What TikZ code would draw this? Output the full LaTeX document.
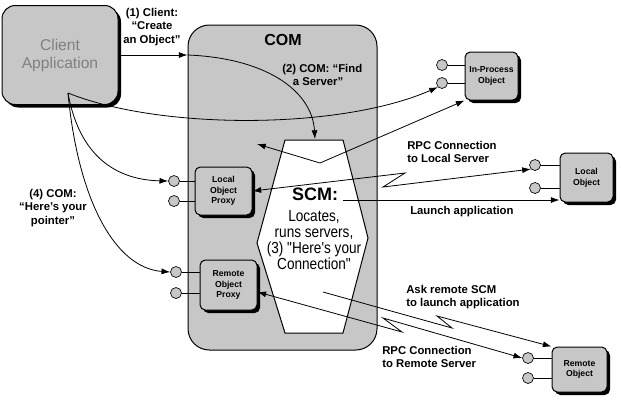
\documentclass[tikz,border=0pt]{standalone}
\usepackage{fontspec}
\setmainfont{Liberation Sans}
\newfontfamily\scmfont[FakeStretch=0.85]{Liberation Sans}
\usetikzlibrary{arrows.meta,shadows}
\begin{document}
\begin{tikzpicture}[x=0.75pt, y=-0.75pt,
  dotfill/.style={fill=black!22},
  boxshadow/.style={drop shadow={shadow xshift=2.25pt, shadow yshift=-2.25pt, fill=black, opacity=1}},
  objbox/.style={draw, line width=0.75pt, dotfill, rounded corners=4pt, boxshadow, align=center,
    font=\fontsize{6.5}{7.9}\selectfont\bfseries, inner sep=0pt},
  plug/.style={draw, circle, dotfill, minimum size=8.25pt, inner sep=0pt, line width=0.5pt},
  lbl/.style={font=\fontsize{8.5}{10.2}\selectfont\bfseries, inner sep=0pt},
  arr/.style={line width=0.6pt, -{Latex[length=6.5pt,width=4.5pt]}},
  biarr/.style={line width=0.6pt, {Latex[length=6.5pt,width=4.5pt]}-{Latex[length=6.5pt,width=4.5pt]}}]
\useasboundingbox (0,0) rectangle (621,405);
  % COM frame and SCM
  \node[draw, line width=0.75pt, dotfill, rounded corners=16pt, minimum width=141.75pt, minimum height=243.75pt] (com) at (282.5,187.5) {};
  \node[font=\fontsize{12}{14}\selectfont\bfseries] (comlbl) at (283,40) {COM};
  \draw[line width=0.75pt, fill=white] (285,140) -- (343,140) -- (368,238) -- (343,333) -- (285,333) -- (257,243) -- cycle;
  \node[font=\fontsize{13.5}{16}\selectfont\bfseries, anchor=base, inner sep=0pt] (scm) at (315,200) {SCM:};
  \node[font=\scmfont\fontsize{12}{12}\selectfont, align=center, anchor=north, inner sep=0pt] (scmtxt) at (314,210)
    {Locates,\\runs servers,\\(3) "Here's your\\Connection"};
  % client
  \node[draw, line width=0.75pt, dotfill, rounded corners=10pt, boxshadow, minimum width=87pt, minimum height=74.25pt,
    text=black!50, align=center, font=\fontsize{11.7}{13.5}\selectfont] (client) at (60,55) {Client\\Application};
  % objects
  \node[objbox, minimum width=42.75pt, minimum height=36pt] (lproxy) at (223.5,191) {Local\\Object\\Proxy};
  \node[objbox, minimum width=42.75pt, minimum height=37.5pt] (rproxy) at (228.5,285) {Remote\\Object\\Proxy};
  \node[objbox, minimum width=39.75pt, minimum height=36pt] (inproc) at (491.5,76) {In-Process\\Object};
  \node[objbox, minimum width=39.75pt, minimum height=36.75pt] (lobj) at (586.5,177.5) {Local\\Object};
  \node[objbox, minimum width=41.25pt, minimum height=33.75pt] (robj) at (579.5,369.5) {Remote\\Object};
  % interface plugs
  \node[plug] (ip1) at (442,65) {};
  \draw (ip1.east) -- (ip1 -| inproc.west);
  \node[plug] (ip2) at (442,83) {};
  \draw (ip2.east) -- (ip2 -| inproc.west);
  \node[plug] (lp1) at (174,181) {};
  \draw (lp1.east) -- (lp1 -| lproxy.west);
  \node[plug] (lp2) at (174,201) {};
  \draw (lp2.east) -- (lp2 -| lproxy.west);
  \node[plug] (rp1) at (176,272) {};
  \draw (rp1.east) -- (rp1 -| rproxy.west);
  \node[plug] (rp2) at (176,293) {};
  \draw (rp2.east) -- (rp2 -| rproxy.west);
  \node[plug] (lo1) at (535,165) {};
  \draw (lo1.east) -- (lo1 -| lobj.west);
  \node[plug] (lo2) at (535,188) {};
  \draw (lo2.east) -- (lo2 -| lobj.west);
  \node[plug] (ro1) at (528,358) {};
  \draw (ro1.east) -- (ro1 -| robj.west);
  \node[plug] (ro2) at (528,378) {};
  \draw (ro2.east) -- (ro2 -| robj.west);
  % connectors
  \coordinate (cfoot) at (68,93);
  \coordinate (scmtop) at (315,139);
  \coordinate (vtip) at (320,163);
  \coordinate (vleft) at (257,144);
  \coordinate (scmr) at (343,200);
  \coordinate (askstart) at (323,292);
  \coordinate (zl1) at (405,173);
  \coordinate (zl2) at (383,187);
  \coordinate (zr1) at (402,332);
  \coordinate (zr2) at (383,318);
  \coordinate (za1) at (452,328);
  \coordinate (za2) at (437,316);
  \draw[arr] (client.east) -- (client.east -| com.west);
  \draw[arr] (client.east -| com.west) .. controls (265,58) and (312,90) .. (scmtop);
  \draw[arr] (cfoot) .. controls (160,130) and (340,130) .. (ip2.south west);
  \draw[arr] (vtip) -- (inproc.south west);
  \draw[arr] (vtip) -- (vleft);
  \draw[arr] (cfoot) .. controls (80,160) and (120,180) .. (lp1.west);
  \draw[arr] (cfoot) .. controls (78,200) and (115,268) .. (rp1.west);
  \draw[arr] (scmr) -- (scmr -| lobj.west);
  \draw[biarr] (lproxy.east) -- (zl1) -- (zl2) -- (lo1.south west);
  \draw[biarr] ([yshift=-5.25pt]rproxy.east) -- (zr1) -- (zr2) -- (ro1.west);
  \draw[arr] (askstart) -- (za1) -- (za2) -- (robj.north west);
  % labels
  \node[lbl, align=center] (step1) at (152,27) {(1) Client:\\“Create\\an Object”};
  \node[lbl, align=left, anchor=west] (step2) at (282,75) {(2) COM: “Find\\\hspace{8pt}a Server”};
  \node[lbl, align=center] (step4) at (53,208) {(4) COM:\\“Here’s your\\pointer”};
  \node[lbl, align=left, anchor=west] (rpcl) at (407,152) {RPC Connection\\to Local Server};
  \node[lbl, anchor=west] (launch) at (410,212) {Launch application};
  \node[lbl, align=left, anchor=west] (askscm) at (406,297) {Ask remote SCM\\to launch application};
  \node[lbl, align=left, anchor=west] (rpcr) at (382,357) {RPC Connection\\to Remote Server};
\end{tikzpicture}
\end{document}
